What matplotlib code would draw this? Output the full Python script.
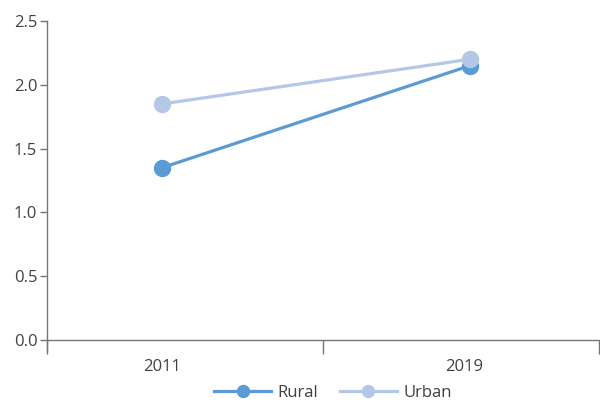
import matplotlib
matplotlib.use("Agg")
import matplotlib.pyplot as plt
from matplotlib.ticker import FixedLocator

years = ["2011", "2019"]
rural = [1.35, 2.15]
urban = [1.85, 2.20]
yticks = [0.0, 0.5, 1.0, 1.5, 2.0, 2.5]

plt.rcParams['font.family'] = ['Open Sans', 'DejaVu Sans']
text_color = '#404040'
axis_color = '#767676'

fig = plt.figure(figsize=(6.0, 4.03), dpi=100)
ax = fig.add_axes([47/600, (403-340)/403, (599-47)/600, (340-21)/403])

x = list(range(len(years)))
ax.plot(x, rural, color='#5B9BD5', lw=2.3, marker='o', ms=11.5, label='Rural', zorder=3)
ax.plot(x, urban, color='#B4C7E7', lw=2.3, marker='o', ms=11.5, label='Urban', zorder=3)

ax.set_xlim(-0.373, 1.419)
ax.set_ylim(0, 2.5)

ax.set_yticks(yticks)
ax.set_yticklabels([f"{v:.1f}" for v in yticks], fontsize=12, color=text_color)
ax.tick_params(axis='y', direction='out', length=5, width=1, color=axis_color, pad=2)

# boundaries between categories as major ticks, labels as minor
ax.xaxis.set_major_locator(FixedLocator([-0.373, 0.523, 1.419]))
ax.xaxis.set_major_formatter(plt.NullFormatter())
ax.xaxis.set_minor_locator(FixedLocator([0, 0.98]))
ax.set_xticklabels(years, minor=True, fontsize=12, color=text_color)
ax.tick_params(axis='x', which='major', direction='out', length=10, width=1, color=axis_color)
ax.tick_params(axis='x', which='minor', length=0, pad=14)

for s in ['top', 'right']:
    ax.spines[s].set_visible(False)
for s in ['left', 'bottom']:
    ax.spines[s].set_color(axis_color)
    ax.spines[s].set_linewidth(1)
ax.spines['left'].set_bounds(-0.08, 2.5)

leg = ax.legend(loc='center', bbox_to_anchor=(333/600, 10/403), bbox_transform=fig.transFigure,
                ncol=2, frameon=False, fontsize=12, handlelength=3.4, markerscale=0.75,
                columnspacing=1.3, handletextpad=0.4, labelcolor=text_color,
                borderpad=0.2)

fig.savefig("out.png", dpi=100)
